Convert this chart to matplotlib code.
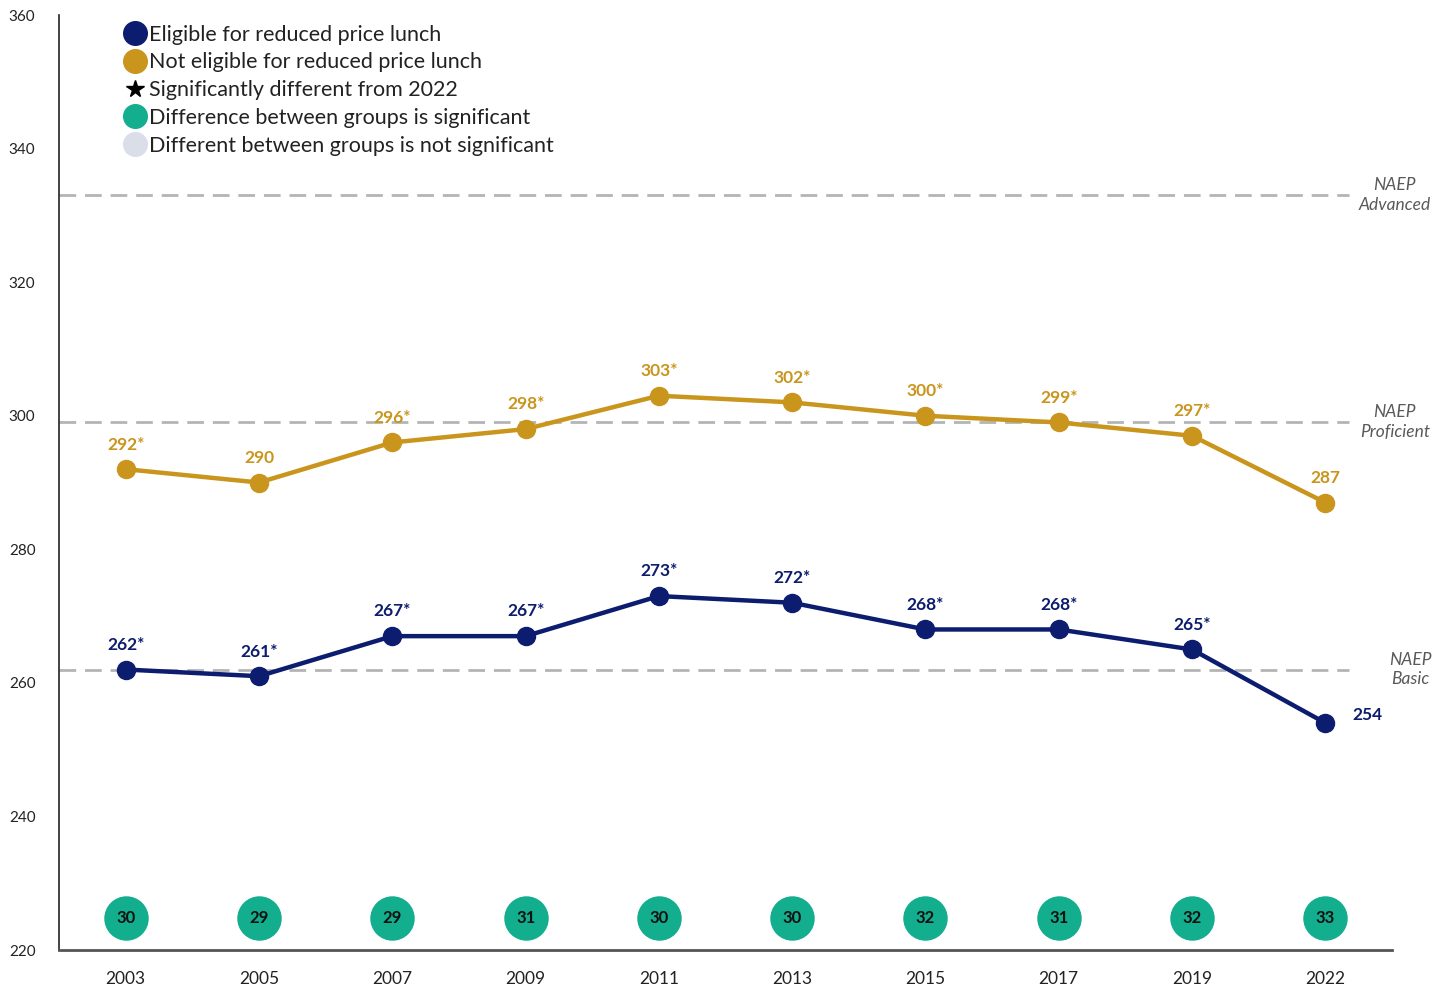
import numpy as np
import matplotlib.pyplot as plt
from matplotlib.lines import Line2D

plt.rcParams['font.family'] = ['Lato', 'DejaVu Sans']

years = ["2003", "2005", "2007", "2009", "2011", "2013", "2015", "2017", "2019", "2022"]
eligible = [262, 261, 267, 267, 273, 272, 268, 268, 265, 254]
not_eligible = [292, 290, 296, 298, 303, 302, 300, 299, 297, 287]
elig_sig = [True, True, True, True, True, True, True, True, True, False]
not_elig_sig = [True, False, True, True, True, True, True, True, True, False]
gaps = [30, 29, 29, 31, 30, 30, 32, 31, 32, 33]

naep_levels = [333, 299, 262]
naep_names = ["NAEP\nAdvanced", "NAEP\nProficient", "NAEP\nBasic"]

navy = "#0c1c6e"
gold = "#c9951c"
teal = "#12ae8e"
light = "#d9dee8"
grey = "#b4b4b4"

fig = plt.figure(figsize=(14.47, 9.89), dpi=100)
ax = fig.add_axes([0.0408, 0.0394, 0.9212, 0.9454])

x = np.arange(len(years))

# benchmark lines
for lev, name in zip(naep_levels, naep_names):
    ax.hlines(lev, -0.5, 9.18, color=grey, lw=2, linestyle=(0, (6, 3.2)), zorder=1)
    xt = 9.52 if "Basic" not in name else 9.64
    ax.text(xt, lev, name, ha="center", va="center", style="italic",
            fontsize=12.5, color="#595959", linespacing=1.3, clip_on=False)

# series
ax.plot(x, not_eligible, color=gold, lw=3.2, marker="o", ms=13, zorder=3)
ax.plot(x, eligible, color=navy, lw=3.2, marker="o", ms=13, zorder=3)

for i in range(len(years)):
    lab = str(not_eligible[i]) + ("*" if not_elig_sig[i] else "")
    ax.annotate(lab, (x[i], not_eligible[i]), xytext=(0, 12), textcoords="offset points",
                ha="center", va="bottom", fontsize=12.5, fontweight="bold", color=gold)
    lab = str(eligible[i]) + ("*" if elig_sig[i] else "")
    if i == len(years) - 1:
        ax.annotate(lab, (x[i], eligible[i]), xytext=(30, 6), textcoords="offset points",
                    ha="center", va="center", fontsize=12.5, fontweight="bold", color=navy)
    else:
        ax.annotate(lab, (x[i], eligible[i]), xytext=(0, 12), textcoords="offset points",
                    ha="center", va="bottom", fontsize=12.5, fontweight="bold", color=navy)

# gap bubbles
ax.scatter(x, [224.8] * len(x), s=31**2, color=teal, zorder=3, clip_on=False)
for i, g in enumerate(gaps):
    ax.text(x[i], 224.8, str(g), ha="center", va="center", fontsize=12,
            fontweight="bold", color="#111111", zorder=4)

ax.set_xlim(-0.5, 9.5)
ax.set_ylim(220, 360)
ax.set_xticks(x)
ax.set_xticklabels(years, fontsize=12.5, color="#222222")
ax.set_yticks(np.arange(220, 361, 20))
ax.tick_params(axis="y", length=0, labelsize=11, colors="#222222", pad=17)
ax.tick_params(axis="x", length=0, pad=15)
for s in ["top", "right"]:
    ax.spines[s].set_visible(False)
ax.spines["left"].set_color("#222222")
ax.spines["left"].set_linewidth(1.2)
ax.spines["bottom"].set_color("#555555")
ax.spines["bottom"].set_linewidth(2)

# legend
handles = [
    Line2D([], [], ls="", marker="o", ms=17, color=navy),
    Line2D([], [], ls="", marker="o", ms=17, color=gold),
    Line2D([], [], ls="", marker="*", ms=13, color="black"),
    Line2D([], [], ls="", marker="o", ms=17, color=teal),
    Line2D([], [], ls="", marker="o", ms=17, color=light),
]
labels = ["Eligible for reduced price lunch", "Not eligible for reduced price lunch",
          "Significantly different from 2022", "Difference between groups is significant",
          "Different between groups is not significant"]
ax.legend(handles, labels, loc="upper left", bbox_to_anchor=(0.04, 1.0), frameon=False,
          fontsize=15.5, handletextpad=0.05, labelspacing=0.36, handlelength=1.2,
          borderaxespad=0.05, labelcolor="#222222")

fig.savefig("out.png", dpi=100)
